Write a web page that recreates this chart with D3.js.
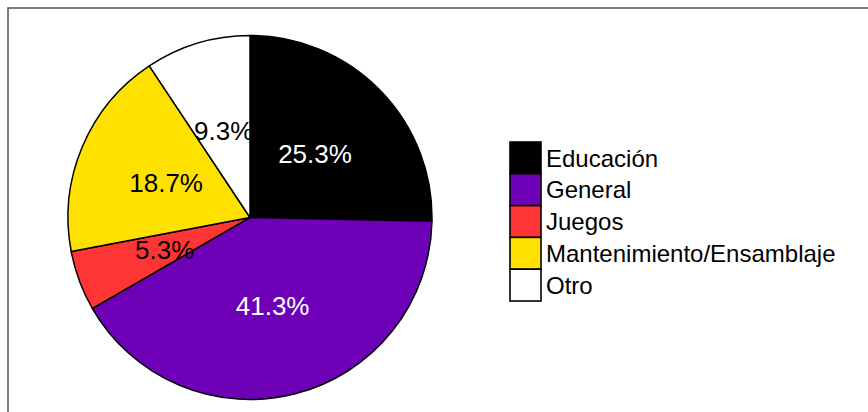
<!DOCTYPE html>
<html>
<head>
<meta charset="utf-8">
<script src="https://cdn.jsdelivr.net/npm/d3@7"></script>
<style>
  html, body { margin: 0; padding: 0; background: #fff; }
  svg { display: block; font-family: "Liberation Sans", Arial, Helvetica, sans-serif; }
</style>
</head>
<body>
<svg id="chart" width="868" height="412"></svg>
<script>
// Categories, counts and slice colours
const categories = ["Educación", "General", "Juegos", "Mantenimiento/Ensamblaje", "Otro"];
const counts = [19, 31, 4, 14, 7];
const percentLabels = ["25.3%", "41.3%", "5.3%", "18.7%", "9.3%"];
const colors = ["#000000", "#6e00b8", "#ff3535", "#ffe100", "#ffffff"];
const labelColors = ["#ffffff", "#ffffff", "#000000", "#000000", "#000000"];

const svg = d3.select("#chart");

// Outer frame (extends past the right and bottom edges)
svg.append("rect")
  .attr("x", 8).attr("y", 8)
  .attr("width", 900).attr("height", 450)
  .attr("fill", "none")
  .attr("stroke", "#5a5a5a")
  .attr("stroke-width", 1.6);

const cx = 250, cy = 217.5, radius = 182;

const data = categories.map((c, i) => ({ name: c, value: counts[i], label: percentLabels[i], color: colors[i], labelColor: labelColors[i] }));

const pie = d3.pie().value(d => d.value).sort(null);
const arc = d3.arc().innerRadius(0).outerRadius(radius);
const labelArc = d3.arc().innerRadius(radius / 2).outerRadius(radius / 2);

const g = svg.append("g").attr("transform", `translate(${cx},${cy})`);
const arcs = pie(data);

g.selectAll("path.slice")
  .data(arcs)
  .join("path")
  .attr("class", "slice")
  .attr("d", arc)
  .attr("fill", d => d.data.color)
  .attr("stroke", "#000")
  .attr("stroke-width", 1.5)
  .attr("stroke-linejoin", "round");

const labelSize = 26;
g.selectAll("text.pct")
  .data(arcs)
  .join("text")
  .attr("class", "pct")
  .attr("transform", d => `translate(${labelArc.centroid(d)})`)
  .attr("text-anchor", "middle")
  .attr("dy", (0.36 * labelSize) + "px")
  .attr("font-size", labelSize + "px")
  .attr("fill", d => d.data.labelColor)
  .text(d => d.data.label);

// Legend
const legendX = 510, legendY = 142, boxW = 31, boxH = 31.8, legendSize = 24;
const legend = svg.append("g");
const items = legend.selectAll("g.item")
  .data(data)
  .join("g")
  .attr("class", "item")
  .attr("transform", (d, i) => `translate(${legendX},${legendY + i * boxH})`);

items.append("rect")
  .attr("x", 0).attr("y", 0)
  .attr("width", boxW).attr("height", boxH)
  .attr("fill", d => d.color)
  .attr("stroke", "#000")
  .attr("stroke-width", 1.6);

items.append("text")
  .attr("x", boxW + 5)
  .attr("y", boxH / 2 + 0.36 * legendSize)
  .attr("font-size", legendSize + "px")
  .attr("fill", "#000")
  .text(d => d.name);
</script>
</body>
</html>
